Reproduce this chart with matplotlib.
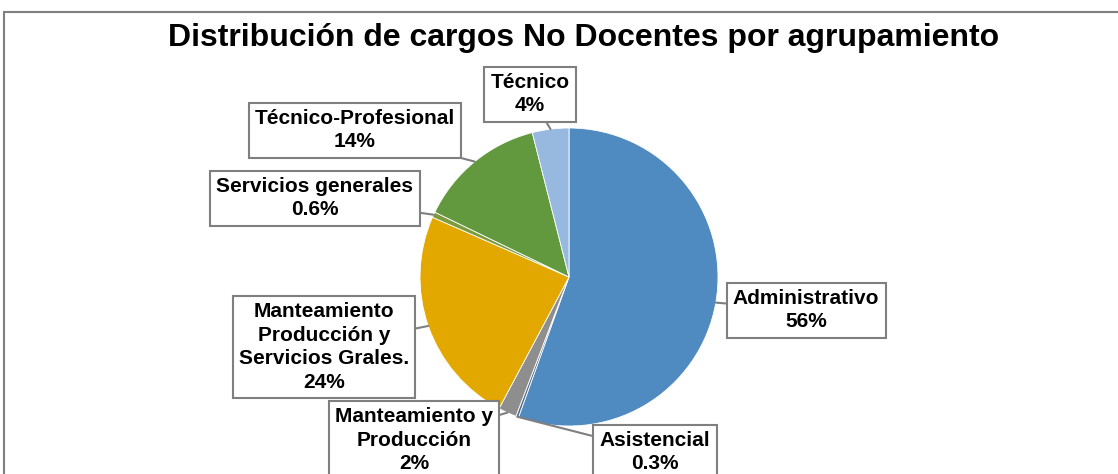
import matplotlib.pyplot as plt
import numpy as np
from matplotlib.patches import Rectangle

# data (clockwise from 12 o'clock)
categories = ['Administrativo', 'Asistencial', 'Manteamiento y\nProducción',
              'Manteamiento\nProducción y\nServicios Grales.', 'Servicios generales',
              'Técnico-Profesional', 'Técnico']
values = [56, 0.3, 2, 24, 0.6, 14, 4]
value_labels = ['56%', '0.3%', '2%', '24%', '0.6%', '14%', '4%']
colors = ['#4F8AC0', '#5A6F8C', '#8E8E8E', '#E3A800', '#7E9B3C', '#62993E', '#97B9E0']

# label box centres, in pixels (y measured from the top)
label_pos = [(806, 310), (655, 452), (414, 440), (324, 347),
             (315, 198), (355, 130), (530, 94)]

W, H = 1118, 474
plt.rcParams['font.family'] = ['Liberation Sans', 'DejaVu Sans']

fig = plt.figure(figsize=(W / 100, H / 100), dpi=100)
ax = fig.add_axes([0, 0, 1, 1])

cx, cy, r = 569, H - 277, 149
wedges, _ = ax.pie(values, colors=colors, startangle=90, counterclock=False,
                   center=(cx, cy), radius=r,
                   wedgeprops=dict(edgecolor='white', linewidth=0.6))

ax.set_xlim(0, W)
ax.set_ylim(0, H)
ax.set_aspect('auto')
ax.axis('off')

# outer chart border (cropped at right and bottom)
ax.add_patch(Rectangle((4, -20), W + 20, H - 12 + 20, fill=False,
                       edgecolor='#7F7F7F', linewidth=1.5, zorder=0))

ax.text(584, H - 38, 'Distribución de cargos No Docentes por agrupamiento',
        ha='center', va='center', fontsize=23, fontweight='bold')

for w, cat, lab, (px, py) in zip(wedges, categories, value_labels, label_pos):
    ang = np.deg2rad((w.theta1 + w.theta2) / 2)
    xy = (cx + r * np.cos(ang), cy + r * np.sin(ang))
    ax.annotate(cat + '\n' + lab, xy=xy, xytext=(px, H - py),
                ha='center', va='center', fontsize=15, fontweight='bold',
                linespacing=1.3,
                bbox=dict(boxstyle='square,pad=0.3', fc='white',
                          ec='#7F7F7F', lw=1.5),
                arrowprops=dict(arrowstyle='-', color='#7F7F7F', lw=1.5,
                                shrinkA=0, shrinkB=0))

fig.savefig('out.png', dpi=100)
